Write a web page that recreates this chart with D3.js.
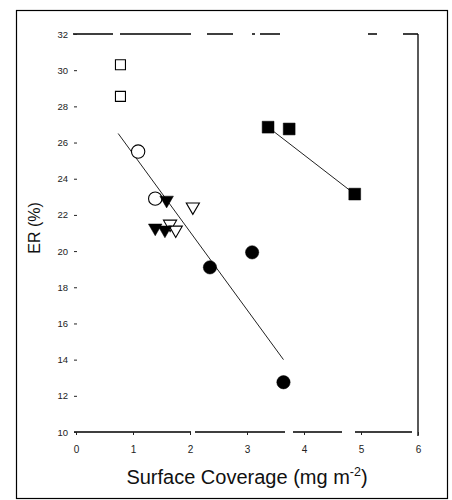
<!DOCTYPE html>
<html>
<head>
<meta charset="utf-8">
<script src="https://cdn.jsdelivr.net/npm/d3@7"></script>
<style>
  html, body { margin: 0; padding: 0; background: #fff; }
  svg { display: block; font-family: "Liberation Sans", Arial, sans-serif; }
</style>
</head>
<body>
<svg id="chart" width="452" height="500"></svg>
<script>
// Tick values for both axes
const xTicks = [0, 1, 2, 3, 4, 5, 6];
const yTicks = [10, 12, 14, 16, 18, 20, 22, 24, 26, 28, 30, 32];

// Measured series: [surface coverage, ER]
const openSquares    = [[0.78, 30.3], [0.78, 28.55]];
const openCircles    = [[1.09, 25.5], [1.39, 22.9]];
const filledTriDown  = [[1.59, 22.82], [1.39, 21.28], [1.56, 21.17]];
const openTriDown    = [[2.05, 22.45], [1.65, 21.5], [1.75, 21.17]];
const filledCircles  = [[2.35, 19.1], [3.09, 19.93], [3.64, 12.75]];
const filledSquares  = [[3.37, 26.85], [3.74, 26.75], [4.89, 23.15]];

// Linear fits drawn as segments
const fitLow  = [[0.74, 26.5], [3.64, 14.0]];
const fitHigh = [[3.37, 26.85], [4.89, 23.15]];

const svg = d3.select("#chart");

// Outer frame
svg.append("rect")
  .attr("x", 16.5).attr("y", 10.5)
  .attr("width", 431).attr("height", 488)
  .attr("fill", "none").attr("stroke", "#000").attr("stroke-width", 1.2);

const x = d3.scaleLinear().domain([0, 6]).range([76, 418]);
const y = d3.scaleLinear().domain([10, 32]).range([432, 34]);

// Plot box edges (top and bottom drawn broken, as printed)
svg.append("line")
  .attr("x1", x(0) - 3).attr("x2", x(6)).attr("y1", y(32)).attr("y2", y(32))
  .attr("stroke", "#000").attr("stroke-width", 1.3)
  .attr("stroke-dasharray", "40,7,71,16,26,19,3,5,20,88,9,26,15");
svg.append("line")
  .attr("x1", x(0) - 2).attr("x2", x(6) - 6).attr("y1", y(10)).attr("y2", y(10))
  .attr("stroke", "#000").attr("stroke-width", 1.3)
  .attr("stroke-dasharray", "117,4,90,8,49,13,57");
svg.append("line")
  .attr("x1", x(6)).attr("x2", x(6)).attr("y1", y(32)).attr("y2", y(10) + 4)
  .attr("stroke", "#000").attr("stroke-width", 1.3);

// Y axis: ticks and labels only
const yAxis = d3.axisLeft(y).tickValues(yTicks).tickSize(3).tickPadding(6)
  .tickFormat(d3.format("d"));
const gy = svg.append("g").attr("transform", `translate(${x(0) + 1},0)`).call(yAxis);
gy.select(".domain").remove();
gy.selectAll(".tick line").attr("stroke", "#222").attr("stroke-width", 1);
gy.selectAll(".tick text").attr("font-size", 9.5).attr("fill", "#222")
  .attr("font-family", "Liberation Sans, Arial, sans-serif");

// X axis: ticks and labels only
const xAxis = d3.axisBottom(x).tickValues(xTicks).tickSize(3).tickPadding(11)
  .tickFormat(d3.format("d"));
const gx = svg.append("g").attr("transform", `translate(0,${y(10)})`).call(xAxis);
gx.select(".domain").remove();
gx.selectAll(".tick line").attr("stroke", "#222").attr("stroke-width", 1);
gx.selectAll(".tick text").attr("font-size", 10).attr("fill", "#222")
  .attr("font-family", "Liberation Sans, Arial, sans-serif");

// Axis titles
const xt = svg.append("text")
  .attr("x", 247).attr("y", 484)
  .attr("text-anchor", "middle")
  .attr("font-size", 20).attr("fill", "#111");
xt.append("tspan").text("Surface Coverage (mg m");
xt.append("tspan").attr("dy", -8).attr("font-size", 12.5).text("-2");
xt.append("tspan").attr("dy", 8).text(")");

svg.append("text")
  .attr("transform", "translate(40,228) rotate(-90)")
  .attr("text-anchor", "middle")
  .attr("font-size", 16).attr("fill", "#111")
  .text("ER (%)");

// Fit lines
const line = d3.line().x(d => x(d[0])).y(d => y(d[1]));
[fitLow, fitHigh].forEach(seg => {
  svg.append("path").datum(seg).attr("d", line)
    .attr("fill", "none").attr("stroke", "#222").attr("stroke-width", 1);
});

// Markers
function drawSeries(data, type, size, filled, rotate) {
  const sym = d3.symbol().type(type).size(size);
  svg.append("g").selectAll("path").data(data).join("path")
    .attr("d", sym)
    .attr("transform", d => `translate(${x(d[0])},${y(d[1])})${rotate ? " rotate(180)" : ""}`)
    .attr("fill", filled ? "#000" : "#fff")
    .attr("stroke", "#000")
    .attr("stroke-width", filled ? 0.5 : 1.1);
}

drawSeries(openSquares, d3.symbolSquare, 100, false, false);
drawSeries(openCircles, d3.symbolCircle, 140, false, false);
drawSeries(openTriDown, d3.symbolTriangle, 75, false, true);
drawSeries(filledTriDown, d3.symbolTriangle, 80, true, true);
drawSeries(filledCircles, d3.symbolCircle, 140, true, false);
drawSeries(filledSquares, d3.symbolSquare, 140, true, false);
</script>
</body>
</html>
